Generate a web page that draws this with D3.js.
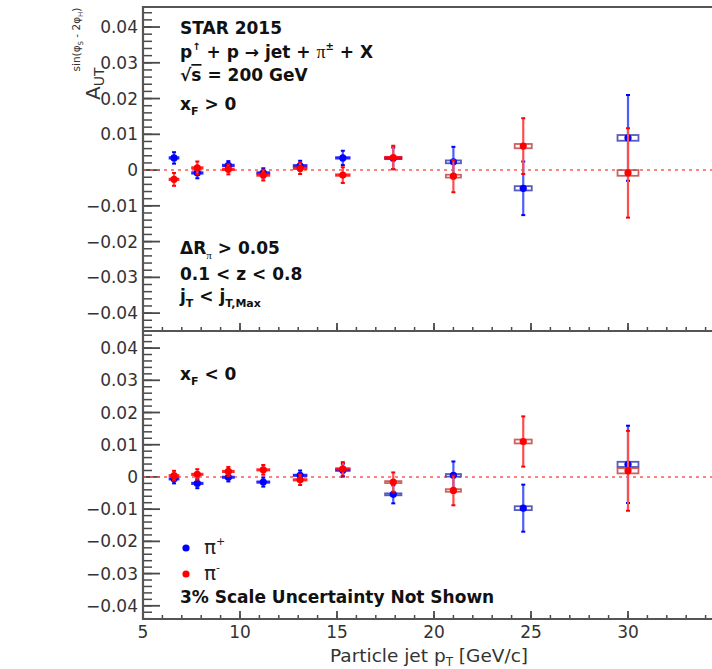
<!DOCTYPE html>
<html>
<head>
<meta charset="utf-8">
<script src="https://cdn.jsdelivr.net/npm/d3@7"></script>
<style>
  body { margin: 0; background: #fff; }
  svg { display: block; }
  text { font-family: "DejaVu Sans", "Liberation Sans", sans-serif; }
</style>
</head>
<body>
<script>
// ---------------- data ----------------
const ptBins = [6.6, 7.8, 9.4, 11.2, 13.1, 15.3, 17.9, 21.0, 24.6, 30.0];
const sysHalfWidth = [0.23, 0.27, 0.28, 0.31, 0.33, 0.35, 0.42, 0.39, 0.44, 0.54];

// x_F > 0
const piPlusTop      = [0.0034, -0.0008, 0.0013, -0.0008, 0.0012, 0.0034, 0.0033, 0.0023, -0.0051, 0.0090];
const piPlusTopErr   = [0.0016, 0.0015, 0.0012, 0.0013, 0.0014, 0.0020, 0.0030, 0.0042, 0.0075, 0.0120];
const piPlusTopSys   = [0.0002, 0.0002, 0.0002, 0.0002, 0.0002, 0.0002, 0.0002, 0.0004, 0.0006, 0.0008];
const piMinusTop     = [-0.0026, 0.0006, 0.0002, -0.0014, 0.0005, -0.0014, 0.0035, -0.0017, 0.0067, -0.0008];
const piMinusTopErr  = [0.0018, 0.0018, 0.0014, 0.0015, 0.0016, 0.0022, 0.0033, 0.0045, 0.0078, 0.0125];
const piMinusTopSys  = [0.0002, 0.0002, 0.0002, 0.0002, 0.0002, 0.0002, 0.0002, 0.0004, 0.0006, 0.0008];

// x_F < 0
const piPlusBot      = [-0.0006, -0.0020, -0.0001, -0.0016, 0.0005, 0.0021, -0.0054, 0.0005, -0.0097, 0.0039];
const piPlusBotErr   = [0.0014, 0.0015, 0.0013, 0.0014, 0.0015, 0.0020, 0.0028, 0.0043, 0.0073, 0.0120];
const piPlusBotSys   = [0.0002, 0.0002, 0.0002, 0.0002, 0.0002, 0.0002, 0.0003, 0.0004, 0.0006, 0.0008];
const piMinusBot     = [0.0004, 0.0008, 0.0017, 0.0022, -0.0009, 0.0025, -0.0016, -0.0042, 0.0110, 0.0019];
const piMinusBotErr  = [0.0015, 0.0016, 0.0014, 0.0015, 0.0016, 0.0021, 0.0030, 0.0046, 0.0078, 0.0124];
const piMinusBotSys  = [0.0002, 0.0002, 0.0002, 0.0002, 0.0002, 0.0002, 0.0003, 0.0004, 0.0006, 0.0008];

const yMajorTicks = [-0.04, -0.03, -0.02, -0.01, 0, 0.01, 0.02, 0.03, 0.04];
const yTickLabels = ["\u22120.04", "\u22120.03", "\u22120.02", "\u22120.01", "0", "0.01", "0.02", "0.03", "0.04"];
const xMajorTicks = [5, 10, 15, 20, 25, 30];
const xTickLabels = ["5", "10", "15", "20", "25", "30"];

// ---------------- layout ----------------
const W = 712, H = 669;
const left = 143, right = 712;
const svg = d3.select("body").append("svg").attr("width", W).attr("height", H);

const x = d3.scaleLinear().domain([5, 35]).range([left, left + 30 * 19.4]);
const yTop = d3.scaleLinear().domain([-0.045, 0.0456]).range([331, 7]);
const yBot = d3.scaleLinear().domain([-0.0441, 0.0453]).range([619, 331]);

const axisCol = "#4a4a4a";
const BLUE = "#0000ff", RED = "#ff0000";
const BLUE_ERR = "#4d5cff", RED_ERR = "#ff4d4d";
const BLUE_BOX = "#3a3fb0", RED_BOX = "#c04848";

function drawPanel(y, top, bottom, series) {
  const g = svg.append("g");
  const yMinor = d3.range(-0.044, 0.0455, 0.002).filter(v => y(v) >= top - 0.5 && y(v) <= bottom + 0.5);
  g.selectAll(".ymin").data(yMinor).join("line")
    .attr("x1", left).attr("x2", left + 9)
    .attr("y1", d => y(d)).attr("y2", d => y(d))
    .attr("stroke", axisCol).attr("stroke-width", 1.5);
  g.selectAll(".ymaj").data(yMajorTicks).join("line")
    .attr("x1", left).attr("x2", left + 17)
    .attr("y1", d => y(d)).attr("y2", d => y(d))
    .attr("stroke", axisCol).attr("stroke-width", 1.8);
  g.selectAll(".ylab").data(yMajorTicks).join("text")
    .attr("x", left - 5).attr("y", d => y(d)).attr("dy", "0.36em")
    .attr("text-anchor", "end").attr("font-size", 17).attr("fill", "#333")
    .text((d, i) => yTickLabels[i]);
  const xMinor = d3.range(5, 35, 1);
  g.selectAll(".xmin").data(xMinor).join("line")
    .attr("x1", d => x(d)).attr("x2", d => x(d))
    .attr("y1", bottom).attr("y2", bottom - 4)
    .attr("stroke", axisCol).attr("stroke-width", 1.5);
  g.selectAll(".xmaj").data(xMajorTicks).join("line")
    .attr("x1", d => x(d)).attr("x2", d => x(d))
    .attr("y1", bottom).attr("y2", bottom - 8)
    .attr("stroke", axisCol).attr("stroke-width", 1.8);

  g.append("line")
    .attr("x1", left).attr("x2", right).attr("y1", y(0)).attr("y2", y(0))
    .attr("stroke", "#ff5a5a").attr("stroke-width", 1.6).attr("stroke-dasharray", "3,4");

  series.forEach(s => {
    const pts = ptBins.map((p, i) => ({ p, v: s.vals[i], e: s.err[i], sy: s.sys[i], hw: sysHalfWidth[i] }));
    const sg = g.append("g");
    sg.selectAll(".err").data(pts).join("line")
      .attr("x1", d => x(d.p)).attr("x2", d => x(d.p))
      .attr("y1", d => y(d.v - d.e)).attr("y2", d => y(d.v + d.e))
      .attr("stroke", s.errCol).attr("stroke-width", 2.2);
    sg.selectAll(".capT").data(pts).join("line")
      .attr("x1", d => x(d.p) - 2).attr("x2", d => x(d.p) + 2)
      .attr("y1", d => y(d.v + d.e)).attr("y2", d => y(d.v + d.e))
      .attr("stroke", s.col).attr("stroke-width", 2);
    sg.selectAll(".capB").data(pts).join("line")
      .attr("x1", d => x(d.p) - 2).attr("x2", d => x(d.p) + 2)
      .attr("y1", d => y(d.v - d.e)).attr("y2", d => y(d.v - d.e))
      .attr("stroke", s.col).attr("stroke-width", 2);
    sg.selectAll(".box").data(pts).join("rect")
      .attr("x", d => x(d.p - d.hw)).attr("width", d => x(d.p + d.hw) - x(d.p - d.hw))
      .attr("y", d => y(d.v + d.sy)).attr("height", d => Math.max(1, y(d.v - d.sy) - y(d.v + d.sy)))
      .attr("fill", "none").attr("stroke", d => d.sy < 0.0003 ? s.col : s.boxCol)
      .attr("stroke-width", 1.8).attr("stroke-opacity", 0.85);
    sg.selectAll(".mk").data(pts).join("circle")
      .attr("cx", d => x(d.p)).attr("cy", d => y(d.v)).attr("r", 3.6)
      .attr("fill", s.col);
  });
}

drawPanel(yTop, 7, 331, [
  { vals: piPlusTop, err: piPlusTopErr, sys: piPlusTopSys, col: BLUE, errCol: BLUE_ERR, boxCol: BLUE_BOX },
  { vals: piMinusTop, err: piMinusTopErr, sys: piMinusTopSys, col: RED, errCol: RED_ERR, boxCol: RED_BOX }
]);
drawPanel(yBot, 331, 619, [
  { vals: piPlusBot, err: piPlusBotErr, sys: piPlusBotSys, col: BLUE, errCol: BLUE_ERR, boxCol: BLUE_BOX },
  { vals: piMinusBot, err: piMinusBotErr, sys: piMinusBotSys, col: RED, errCol: RED_ERR, boxCol: RED_BOX }
]);

// frames
const frame = svg.append("g").attr("stroke", "#555").attr("stroke-width", 2.2).attr("fill", "none");
frame.append("line").attr("x1", left).attr("x2", right).attr("y1", 7).attr("y2", 7);
frame.append("line").attr("x1", left).attr("x2", right).attr("y1", 331).attr("y2", 331);
frame.append("line").attr("x1", left).attr("x2", right).attr("y1", 619).attr("y2", 619);
frame.append("line").attr("x1", left).attr("x2", left).attr("y1", 6).attr("y2", 620);

// x tick labels
svg.selectAll(".xlab").data(xMajorTicks).join("text")
  .attr("x", d => x(d)).attr("y", 638).attr("text-anchor", "middle")
  .attr("font-size", 17).attr("fill", "#333").text((d, i) => xTickLabels[i]);

// x title
const xt = svg.append("text").attr("x", 330).attr("y", 662).attr("font-size", 18.5).attr("fill", "#333");
xt.append("tspan").text("Particle jet p");
xt.append("tspan").attr("font-size", 12).attr("dy", 4).text("T");
xt.append("tspan").attr("dy", -4).text(" [GeV/c]");

// y title (rotated)
const yt = svg.append("text").attr("transform", "translate(100,100) rotate(-90)").attr("fill", "#333");
yt.append("tspan").attr("font-size", 20).text("A");
yt.append("tspan").attr("font-size", 14).attr("dy", 4).text("UT");
yt.append("tspan").attr("font-size", 10.5).attr("dy", -24).attr("dx", -4).text("sin(\u03c6");
yt.append("tspan").attr("font-size", 7).attr("dy", 3).text("S");
yt.append("tspan").attr("font-size", 10.5).attr("dy", -3).text(" - 2\u03c6");
yt.append("tspan").attr("font-size", 7).attr("dy", 3).text("H");
yt.append("tspan").attr("font-size", 10.5).attr("dy", -3).text(")");

// annotations
function label(xp, yp, parts) {
  const t = svg.append("text").attr("x", xp).attr("y", yp).attr("font-size", 17).attr("font-weight", "bold").attr("fill", "#111");
  parts.forEach(p => {
    const ts = t.append("tspan").text(p.t);
    if (p.fs) ts.attr("font-size", p.fs);
    if (p.dy) ts.attr("dy", p.dy);
    if (p.dx) ts.attr("dx", p.dx);
    if (p.ff) ts.attr("font-family", p.ff);
    if (p.fw) ts.attr("font-weight", p.fw);
    if (p.deco) ts.attr("text-decoration", p.deco);
  });
  return t;
}
label(180, 34, [{ t: "STAR 2015" }]);
label(180, 58, [
  { t: "p" }, { t: "\u2191", fs: 10, dy: -8 }, { t: " + p  \u2192 jet + ", dy: 8 },
  { t: "\u03c0", ff: "Liberation Serif", fw: "normal", fs: 18 }, { t: "\u00b1", fs: 10, dy: -8 }, { t: " + X", dy: 8 }
]);
label(180, 81, [{ t: "\u221a" }, { t: "s", deco: "overline" }, { t: " = 200 GeV" }]);
label(180, 110, [{ t: "x" }, { t: "F", fs: 11, dy: 5 }, { t: " > 0", dy: -5 }]);
label(180, 254, [{ t: "\u0394R" }, { t: "\u03c0", fs: 11, dy: 5, ff: "Liberation Serif", fw: "normal" }, { t: " > 0.05", dy: -5 }]);
label(180, 280, [{ t: "0.1 < z < 0.8" }]);
label(180, 302, [{ t: "j" }, { t: "T", fs: 11, dy: 5 }, { t: " < j", dy: -5 }, { t: "T,Max", fs: 11, dy: 5 }]);

label(180, 380, [{ t: "x" }, { t: "F", fs: 11, dy: 5 }, { t: " < 0", dy: -5 }]);

// legend
const legendItems = [{ name: "+", col: BLUE, y: 548 }, { name: "-", col: RED, y: 574 }];
legendItems.forEach(it => {
  svg.append("circle").attr("cx", 186).attr("cy", it.y).attr("r", 3.6).attr("fill", it.col);
  const t = svg.append("text").attr("x", 204).attr("y", it.y + 6).attr("fill", "#222")
    .attr("font-family", "Liberation Serif").attr("font-size", 20);
  t.append("tspan").text("\u03c0");
  t.append("tspan").attr("font-size", 11).attr("dy", -9).attr("font-family", "DejaVu Sans").text(it.name);
});
label(180, 603, [{ t: "3% Scale Uncertainty Not Shown" }]);
</script>
</body>
</html>
